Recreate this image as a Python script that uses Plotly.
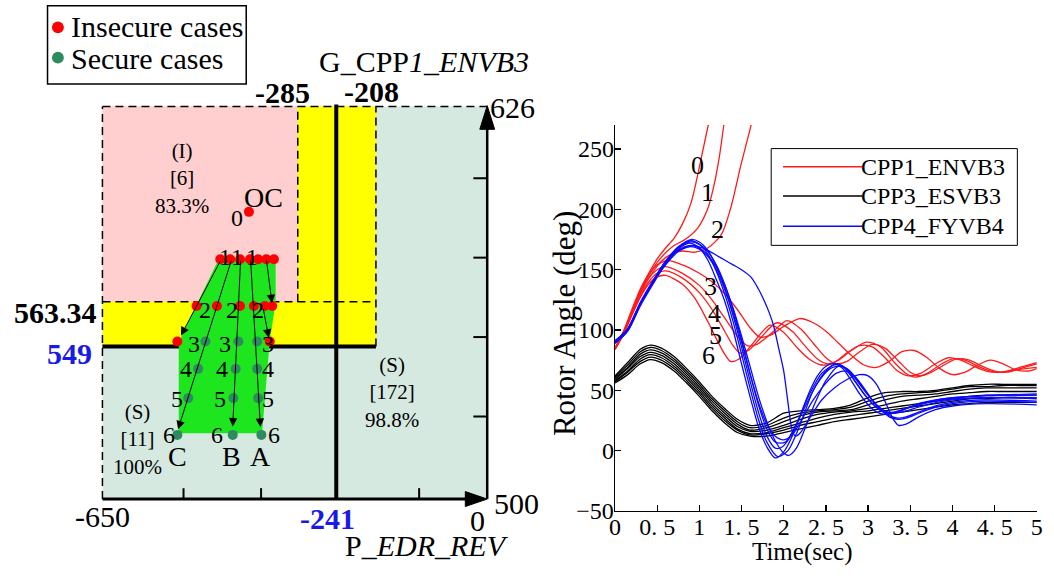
import plotly.graph_objects as go

W, H = 1054, 578
FONT = "Liberation Serif"

# ================= LEFT PANEL DATA (security region diagram) =================
x_end_labels = ["-650", "0"]
y_end_labels = ["500", "626"]
x_full = [-650, 0]
y_full = [500, 626]
x_bound_labels = ["-285", "-241", "-208"]
x_bound_drawn = [-320, -255, -188]        # where the schematic draws them
y_bound_labels = ["563.34", "549"]
y_bound_drawn = [563.34, 549]
left_xticks = [-513, -382, -255, -115]
left_yticks = [526.5, 552, 577.5, 603]

insecure_x = [-402.5, -450.9, -434.2, -417.5, -400.8, -387.0, -373.1, -360.3,
              -491.0, -456.6, -417.5, -394.2, -375.8, -363.1, -523.4, -367.4]
insecure_y = [592.2, 577, 577, 577, 577, 577, 577, 577,
              562, 562, 562, 562, 562, 562, 550.6, 550.6]
secure_x = [-476.0, -420.4, -388.6, -488.3, -424.9, -388.6,
            -505.0, -428.7, -387.0, -523.4, -429.9, -381.5]
secure_y = [550.6, 550.6, 550.6, 541.8, 541.8, 541.8,
            532.4, 532.4, 532.4, 520.6, 520.6, 520.6]

poly_x = [-453.8, -357.4, -357.4, -367.4, -380.3, -521.1, -521.1]
poly_y = [577.0, 577.0, 563.0, 550.7, 521.1, 521.1, 550.4]

arrow_x0 = [-449.2, -431.6, -416.5, -399.8, -373.1, -378.6]
arrow_y0 = [577, 577, 577, 577, 577, 561.4]
arrow_x1 = [-517.3, -522.2, -429.9, -383.1, -363.6, -369.0]
arrow_y1 = [552.5, 522.4, 523.3, 523.1, 562.9, 551.8]

step_labels = ["0", "1", "1", "1", "2", "2", "2", "3", "3", "3", "4", "4", "4",
               "5", "5", "5", "6", "6", "6"]
step_lx = [-423.2, -442.6, -423.2, -396.5, -476.0, -431.6, -387.0, -495.5, -442.6, -370.3,
           -509.4, -448.3, -370.3, -523.4, -450.9, -370.3, -537.3, -456.6, -360.8]
step_ly = [590.1, 577.6, 577.6, 577.6, 560.8, 560.8, 560.8, 549.8, 549.8, 549.8,
           541.6, 541.6, 541.6, 532.2, 532.2, 532.2, 520.6, 520.6, 520.6]
traj_names = ["C", "B", "A"]
traj_nx = [-523.4, -431.6, -383.1]
traj_ny = [513.8, 513.8, 513.8]

region_texts = ["(I)<br>[6]<br>83.3%", "(S)<br>[172]<br>98.8%", "(S)<br>[11]<br>100%"]
region_x = [-515.1, -160.4, -590.2]
region_y = [603.0, 534.2, 519.0]

# ================= RIGHT PANEL DATA (rotor angles) =================
red_t = [
    [0, 0.1, 0.2, 0.3, 0.4, 0.5, 0.6, 0.7, 0.8, 0.9, 1.0, 1.06, 1.12, 1.16],
    [0, 0.1, 0.2, 0.3, 0.4, 0.5, 0.6, 0.7, 0.83, 0.98, 1.1, 1.18, 1.24, 1.29, 1.33],
    [0, 0.1, 0.2, 0.3, 0.4, 0.5, 0.6, 0.7, 0.8, 0.95, 1.1, 1.26, 1.37, 1.49, 1.57, 1.62, 1.66],
    [0, 0.1, 0.2, 0.3, 0.4, 0.5, 0.63, 0.8, 1.0, 1.15, 1.3, 1.45, 1.6, 1.72, 1.85, 2.0, 2.19, 2.35,
     2.5, 2.65, 2.8, 2.95, 3.1, 3.25, 3.4, 3.55, 3.7, 3.85, 4.0, 4.15, 4.3, 4.45, 4.6, 4.75, 4.9, 5.0],
    [0, 0.1, 0.2, 0.3, 0.4, 0.5, 0.6, 0.8, 1.0, 1.15, 1.3, 1.45, 1.57, 1.68, 1.85, 2.04, 2.2, 2.35,
     2.5, 2.62, 2.75, 2.9, 3.05, 3.2, 3.35, 3.5, 3.62, 3.75, 3.9, 4.05, 4.2, 4.35, 4.5, 4.65, 4.8, 5.0],
    [0, 0.1, 0.2, 0.3, 0.4, 0.5, 0.6, 0.8, 1.0, 1.15, 1.3, 1.4, 1.48, 1.58, 1.72, 1.92, 2.1, 2.25,
     2.4, 2.52, 2.65, 2.8, 2.98, 3.15, 3.3, 3.45, 3.56, 3.7, 3.85, 4.0, 4.15, 4.3, 4.45, 4.6, 4.8, 5.0],
    [0, 0.1, 0.2, 0.3, 0.4, 0.5, 0.6, 0.8, 0.95, 1.1, 1.2, 1.3, 1.37, 1.47, 1.6, 1.84, 2.0, 2.15,
     2.3, 2.45, 2.6, 2.75, 2.9, 3.05, 3.2, 3.35, 3.48, 3.62, 3.8, 3.95, 4.1, 4.25, 4.4, 4.55, 4.75, 5.0],
]
red_v = [
    [85, 99, 117, 134, 147, 159, 168, 176, 188, 205, 235, 255, 275, 295],
    [84, 98, 115, 132, 145, 156, 164, 170, 175, 184.5, 200.7, 222, 245, 270, 290],
    [84, 97, 114, 130, 143, 153, 160, 164, 165.5, 164.5, 168, 179, 200.7, 236, 258, 272, 290],
    [85, 98, 115, 132, 146, 154, 157.5, 154, 147, 140, 130, 117, 102, 94, 96, 103, 109.5, 106,
     99, 89, 79, 71, 69, 74, 82, 83, 77, 68, 63, 65, 71, 75, 72, 67, 66, 68],
    [85, 98, 114, 130, 143, 150, 152.6, 147, 137, 125, 110, 95, 87, 88, 97, 107.8, 101, 89,
     77, 72, 74, 82, 88, 85, 75, 65, 62, 65, 71, 76, 75, 70, 66, 65, 68, 72],
    [84, 97, 113, 128, 140, 147, 149, 143, 131, 117, 99, 87, 81, 83, 93, 106, 99, 87,
     76, 72, 75, 83, 90, 86, 74, 64, 61, 64, 71, 76, 75, 70, 66, 65, 69, 73],
    [84, 96, 112, 127, 138, 144, 145.3, 138, 126, 107, 93, 80, 74, 76, 86, 104, 98, 86,
     76, 71, 73, 81, 87, 86, 77, 66, 62, 64, 72, 77, 75, 70, 66, 65, 67, 69],
]

black_t = [0, 0.15, 0.3, 0.42, 0.55, 0.7, 0.85, 1.0, 1.15, 1.3, 1.45, 1.6, 1.8, 2.0, 2.2,
           2.4, 2.6, 2.8, 3.0, 3.2, 3.4, 3.6, 3.8, 4.0, 4.2, 4.4, 4.6, 4.8, 5.0]
black_v = [
    [62, 73, 84, 87.5, 85, 78, 68, 57, 45, 35, 26, 21, 23, 31, 33, 34, 35, 38, 44, 48, 49, 49, 50, 52, 54, 55, 55, 55, 55],
    [61, 71, 82, 85.5, 83, 76, 66, 55, 43, 33, 24, 19, 21, 27, 31, 33, 34, 36, 41, 45, 47, 48, 49, 51, 53, 53, 54, 54, 54],
    [60, 69, 80, 83.5, 81, 74, 64, 53, 41, 31, 22, 17, 19, 24, 29, 32, 33, 34, 38, 42, 45, 46, 47, 49, 51, 52, 52, 52, 52],
    [59, 68, 78, 81.5, 79, 72, 62, 51, 39, 29, 20, 16, 17, 21, 26, 30, 32, 33, 35, 38, 41, 43, 45, 47, 48, 49, 49, 49, 49],
    [58, 66, 76, 79.5, 77, 70, 60, 49, 37, 27, 18, 14, 15, 19, 23, 27, 30, 32, 33, 35, 37, 39, 41, 43, 45, 46, 46, 46, 46],
    [57, 65, 74, 77.5, 75, 68, 58, 47, 35, 25, 17, 13, 14, 17, 21, 24, 27, 29, 31, 33, 35, 37, 39, 41, 43, 43, 44, 44, 44],
    [56, 63, 72, 75.5, 73, 66, 56, 45, 33, 23, 15, 12, 12, 15, 18, 21, 24, 26, 28, 30, 32, 34, 36, 38, 39, 40, 40, 40, 40],
]

blue_t = [
    [0, 0.15, 0.3, 0.45, 0.6, 0.75, 0.88, 1.0, 1.1, 1.2, 1.3, 1.4, 1.5, 1.6, 1.7, 1.8, 1.9, 2.0, 2.1,
     2.2, 2.3, 2.4, 2.5, 2.6, 2.7, 2.8, 2.9, 3.0, 3.1, 3.2, 3.3, 3.45, 3.6, 3.8, 4.0, 4.3, 4.6, 5.0],
    [0, 0.15, 0.3, 0.45, 0.6, 0.75, 0.9, 1.0, 1.1, 1.2, 1.3, 1.4, 1.5, 1.6, 1.7, 1.8, 1.93, 2.05, 2.15,
     2.25, 2.35, 2.5, 2.62, 2.72, 2.85, 2.95, 3.05, 3.15, 3.25, 3.35, 3.5, 3.7, 3.9, 4.2, 4.5, 5.0],
    [0, 0.15, 0.3, 0.45, 0.6, 0.75, 0.9, 1.0, 1.1, 1.2, 1.3, 1.4, 1.5, 1.6, 1.7, 1.8, 1.9, 1.98, 2.1,
     2.2, 2.3, 2.45, 2.6, 2.7, 2.8, 2.9, 3.0, 3.1, 3.2, 3.3, 3.45, 3.6, 3.8, 4.0, 4.4, 5.0],
    [0, 0.15, 0.3, 0.45, 0.6, 0.75, 0.9, 1.0, 1.1, 1.2, 1.3, 1.4, 1.5, 1.6, 1.7, 1.8, 1.9, 2.02, 2.12,
     2.25, 2.4, 2.55, 2.68, 2.8, 2.9, 3.0, 3.1, 3.2, 3.3, 3.4, 3.55, 3.75, 4.0, 4.4, 5.0],
    [0, 0.15, 0.3, 0.45, 0.6, 0.75, 0.88, 1.0, 1.1, 1.2, 1.3, 1.4, 1.5, 1.6, 1.7, 1.8, 1.9, 2.0, 2.06,
     2.15, 2.25, 2.35, 2.5, 2.65, 2.75, 2.85, 2.95, 3.05, 3.15, 3.25, 3.35, 3.45, 3.6, 3.8, 4.0, 4.4, 5.0],
    [0, 0.15, 0.3, 0.45, 0.6, 0.75, 0.88, 1.0, 1.1, 1.2, 1.3, 1.4, 1.5, 1.6, 1.7, 1.8, 1.9, 2.0, 2.1,
     2.2, 2.35, 2.5, 2.62, 2.74, 2.85, 2.95, 3.05, 3.15, 3.25, 3.35, 3.45, 3.6, 3.8, 4.0, 4.4, 5.0],
    [0, 0.15, 0.3, 0.45, 0.6, 0.75, 0.9, 1.0, 1.1, 1.2, 1.3, 1.4, 1.5, 1.61, 1.7, 1.77, 1.83, 1.88, 1.94,
     2.0, 2.05, 2.1, 2.14, 2.2, 2.3, 2.45, 2.6, 2.75, 2.9, 3.0, 3.1, 3.2, 3.3, 3.36, 3.45, 3.6, 3.8, 4.0, 4.4, 5.0],
]
blue_v = [
    [90, 100, 122, 140, 156, 167, 172, 168, 158, 142, 124, 100, 72, 45, 20, 3, -6, -1, 12,
     30, 48, 62, 70, 72, 68, 58, 47, 38, 32, 30, 31, 35, 39, 42, 44, 45, 46, 46],
    [89, 99, 121, 139, 156, 168, 174, 171, 163, 149, 130, 107, 80, 52, 26, 7, -5, 0, 14,
     32, 50, 66, 72, 69, 57, 47, 39, 33, 31, 32, 36, 40, 43, 45, 46, 47],
    [90, 100, 122, 140, 157, 169, 175, 173, 166, 153, 135, 112, 86, 58, 32, 12, 2, 3, 14,
     30, 46, 64, 71, 70, 62, 52, 43, 36, 32, 32, 35, 38, 41, 43, 44, 44],
    [91, 101, 123, 141, 157, 168, 173, 171, 165, 154, 138, 117, 92, 64, 38, 18, 7, 7, 18,
     36, 56, 68, 70, 64, 55, 46, 38, 33, 31, 32, 35, 39, 42, 44, 43],
    [90, 100, 121, 139, 155, 166, 170, 168, 162, 152, 137, 118, 95, 70, 45, 24, 8, -2, -4,
     2, 18, 36, 58, 70, 68, 61, 52, 42, 34, 29, 27, 28, 32, 37, 40, 42, 41],
    [91, 101, 122, 139, 154, 165, 169, 167, 161, 150, 134, 114, 90, 64, 40, 22, 12, 9, 13,
     24, 42, 56, 64, 66, 60, 51, 42, 34, 28, 26, 27, 31, 36, 39, 41, 40],
    [89, 99, 120, 138, 155, 166, 170, 169, 166, 162, 158, 154, 150, 144, 134, 124, 114, 103.5, 85,
     66, 40, 17, 12, 15, 26, 42, 52, 59, 63, 62, 55, 41, 26, 21, 22, 28, 34, 37, 39, 38],
]

series_names = ["CPP1_ENVB3", "CPP3_ESVB3", "CPP4_FYVB4"]
series_colors = ["#ff1a1a", "#000000", "#0a0aff"]
curve_labels = ["0", "1", "2", "3", "4", "5", "6"]
curve_label_t = [0.98, 1.10, 1.22, 1.13, 1.18, 1.19, 1.11]
curve_label_v = [236, 214, 183, 136, 114, 95.5, 79]
right_xticks = [0, 0.5, 1, 1.5, 2, 2.5, 3, 3.5, 4, 4.5, 5]
right_xticktext = ["0", "0. 5", "1", "1. 5", "2", "2. 5", "3", "3. 5", "4", "4. 5", "5"]
right_yticks = [-50, 0, 50, 100, 150, 200, 250]

# ================= FIGURE =================
def PX(xp):
    return xp / W

def PY(yp):
    return 1 - yp / H

fig = go.Figure()

fig.add_trace(go.Scatter(x=poly_x, y=poly_y, fill="toself", fillcolor="#1ee61e",
                         mode="lines", line=dict(width=0), hoverinfo="skip",
                         xaxis="x", yaxis="y"))
fig.add_trace(go.Scatter(x=insecure_x, y=insecure_y, mode="markers",
                         marker=dict(color="#ff0000", size=10), xaxis="x", yaxis="y"))
fig.add_trace(go.Scatter(x=secure_x, y=secure_y, mode="markers",
                         marker=dict(color="#2e8b5f", size=10), xaxis="x", yaxis="y"))

for fam_t, fam_v, col, shared in [(red_t, red_v, series_colors[0], False),
                                  (black_t, black_v, series_colors[1], True),
                                  (blue_t, blue_v, series_colors[2], False)]:
    for i, v in enumerate(fam_v):
        t = fam_t if shared else fam_t[i]
        fig.add_trace(go.Scatter(x=t, y=v, mode="lines",
                                 line=dict(color=col, width=1.3, shape="spline", smoothing=0.8),
                                 xaxis="x2", yaxis="y2", hoverinfo="skip"))

shapes = []
xa, xb = x_full
ya, yb = y_full
xd1, xthk, xd2 = x_bound_drawn
yd, ythk = y_bound_drawn
shapes.append(dict(type="rect", xref="x", yref="y", x0=xa, x1=xb, y0=ya, y1=yb,
                   fillcolor="#d6e9e0", line_width=0, layer="below"))
shapes.append(dict(type="rect", xref="x", yref="y", x0=xa, x1=xd1, y0=yd, y1=yb,
                   fillcolor="#ffcfcf", line_width=0, layer="below"))
shapes.append(dict(type="rect", xref="x", yref="y", x0=xd1, x1=xd2, y0=ythk, y1=yb,
                   fillcolor="#ffff00", line_width=0, layer="below"))
shapes.append(dict(type="rect", xref="x", yref="y", x0=xa, x1=xd2, y0=ythk, y1=yd,
                   fillcolor="#ffff00", line_width=0, layer="below"))
dash = dict(color="black", width=1.5, dash="8px,5px")
for (x0, y0, x1, y1) in [(xa, yb, xb, yb), (xa, ya, xa, yb), (xd1, yd, xd1, yb),
                         (xd2, ythk, xd2, yb), (xa, yd, xd2, yd)]:
    shapes.append(dict(type="line", xref="x", yref="y", x0=x0, y0=y0, x1=x1, y1=y1,
                       line=dash, layer="below"))
shapes.append(dict(type="line", xref="x", yref="y", x0=xa, x1=xd2, y0=ythk, y1=ythk,
                   line=dict(color="black", width=4), layer="below"))
shapes.append(dict(type="line", xref="x", yref="y", x0=xthk, x1=xthk, y0=ya, y1=yb + 0.7,
                   line=dict(color="black", width=4), layer="below"))
shapes.append(dict(type="line", xref="x", yref="y", x0=xa, x1=xb - 10, y0=ya, y1=ya,
                   line=dict(color="black", width=3)))
shapes.append(dict(type="line", xref="x", yref="y", x0=xb, x1=xb, y0=ya, y1=yb - 4,
                   line=dict(color="black", width=2.5)))
shapes.append(dict(type="path", xref="x", yref="y",
                   path=f"M {xb - 37},{ya - 2.4} L {xb},{ya} L {xb - 37},{ya + 2.4} Z",
                   fillcolor="black", line=dict(color="black", width=1)))
shapes.append(dict(type="path", xref="x", yref="y",
                   path=f"M {xb - 12.5},{yb - 7.3} L {xb},{yb + 0.3} L {xb + 12.5},{yb - 7.3} Z",
                   fillcolor="black", line=dict(color="black", width=1)))
for tx in left_xticks:
    shapes.append(dict(type="line", xref="x", yref="y", x0=tx, x1=tx, y0=ya, y1=ya + 3.5,
                       line=dict(color="black", width=2)))
for ty in left_yticks:
    shapes.append(dict(type="line", xref="x", yref="y", x0=xb - 23.4, x1=xb, y0=ty, y1=ty,
                       line=dict(color="black", width=2)))

# left legend (manual)
shapes.append(dict(type="rect", xref="paper", yref="paper", x0=PX(42), x1=PX(243),
                   y0=PY(86), y1=PY(6), line=dict(color="black", width=1.5),
                   fillcolor="white"))
shapes.append(dict(type="circle", xref="paper", yref="paper", x0=PX(46.5), x1=PX(58.5),
                   y0=PY(34), y1=PY(22), fillcolor="#ff0000", line_width=0))
shapes.append(dict(type="circle", xref="paper", yref="paper", x0=PX(46.5), x1=PX(58.5),
                   y0=PY(65), y1=PY(53), fillcolor="#2e8b5f", line_width=0))
# right legend (manual)
shapes.append(dict(type="rect", xref="paper", yref="paper", x0=PX(774), x1=PX(1023),
                   y0=PY(251), y1=PY(152), line=dict(color="black", width=1),
                   fillcolor="white"))
legend_rows = [170.5, 200.5, 231.5]
for yy, col in zip(legend_rows, series_colors):
    shapes.append(dict(type="line", xref="paper", yref="paper", x0=PX(786), x1=PX(866),
                       y0=PY(yy), y1=PY(yy), line=dict(color=col, width=1.5)))

ann = []
def T(text, x, y, size, xref="paper", yref="paper", color="black", xanchor="center", **kw):
    ann.append(dict(text=text, x=x, y=y, xref=xref, yref=yref, showarrow=False,
                    font=dict(family=FONT, size=size, color=color),
                    xanchor=xanchor, yanchor="middle", **kw))

T("Insecure cases", PX(64), PY(27.5), 30, xanchor="left")
T("Secure cases", PX(64), PY(60), 30, xanchor="left")
for yy, name in zip(legend_rows, series_names):
    T(name, PX(863), PY(yy), 24, xanchor="left")

T("G_CPP<i>1_ENVB3</i>", PX(423), PY(63), 30)
T("<b>" + x_bound_labels[0] + "</b>", PX(280), PY(95), 30)
T("<b>" + x_bound_labels[2] + "</b>", PX(370), PY(94), 30)
T("<b>" + x_bound_labels[1] + "</b>", PX(325), PY(530), 30, color="#1a1ae6")
T("<b>" + y_bound_labels[0] + "</b>", PX(50.5), PY(320), 30)
T("<b>" + y_bound_labels[1] + "</b>", PX(64), PY(362), 30, color="#1a1ae6")
T(x_end_labels[0], PX(98), PY(528), 30)
T(x_end_labels[1], PX(477), PY(532), 30)
T(y_end_labels[0], PX(516), PY(515), 30)
T(y_end_labels[1], PX(512), PY(110), 30)
T("P_<i>EDR_REV</i>", PX(426), PY(558), 30)

for txt, rx, ry in zip(region_texts, region_x, region_y):
    T(txt, rx, ry, 21, xref="x", yref="y")
for s, lx, ly in zip(step_labels, step_lx, step_ly):
    T(s, lx, ly, 24, xref="x", yref="y")
T("OC", -378.6, 596.9, 28, xref="x", yref="y")
for s, lx, ly in zip(traj_names, traj_nx, traj_ny):
    T(s, lx, ly, 28, xref="x", yref="y")

for x0, y0, x1, y1 in zip(arrow_x0, arrow_y0, arrow_x1, arrow_y1):
    ann.append(dict(x=x1, y=y1, ax=x0, ay=y0, xref="x", yref="y", axref="x", ayref="y",
                    text="", showarrow=True, arrowhead=2, arrowsize=1.7, arrowwidth=1,
                    arrowcolor="black", standoff=0, startstandoff=0))

for s, lt, lv in zip(curve_labels, curve_label_t, curve_label_v):
    T(s, lt, lv, 26, xref="x2", yref="y2")
T("Rotor Angle (deg)", PX(565), PY(331), 31, textangle=-90)
T("Time(sec)", PX(805), PY(565), 25)

axis_font = dict(family=FONT, size=24, color="black")
fig.update_layout(
    width=W, height=H, margin=dict(l=0, r=0, t=0, b=0),
    paper_bgcolor="white", plot_bgcolor="rgba(0,0,0,0)", showlegend=False,
    xaxis=dict(domain=[PX(67.6), PX(510.7)], range=[-700, 40], visible=False),
    yaxis=dict(domain=[PY(542.4), PY(64.4)], range=[490, 640], visible=False),
    xaxis2=dict(domain=[PX(616), PX(1042.7)], range=[0, 5], anchor="y2",
                showline=True, linecolor="black", linewidth=1.3, mirror=False,
                ticks="inside", ticklen=6, tickwidth=1.2, tickcolor="black",
                tickvals=right_xticks, ticktext=right_xticktext, tickfont=axis_font,
                ticklabelstandoff=-6, ticklabeloverflow="allow",
                showgrid=False, zeroline=False),
    yaxis2=dict(domain=[PY(522.7), PY(127.8)], range=[-50, 270], anchor="x2",
                showline=True, linecolor="black", linewidth=1.3, mirror=False,
                ticks="inside", ticklen=6, tickwidth=1.2, tickcolor="black",
                tickvals=right_yticks, tickfont=axis_font,
                ticklabelstandoff=-5, showgrid=False, zeroline=False),
    shapes=shapes, annotations=ann,
)

# remove the browser's default page margin so the figure fills the 1054x578 window exactly
fig.write_html("out.html", config={"staticPlot": True},
               post_script="document.body.style.margin='0';document.body.style.overflow='hidden';")
